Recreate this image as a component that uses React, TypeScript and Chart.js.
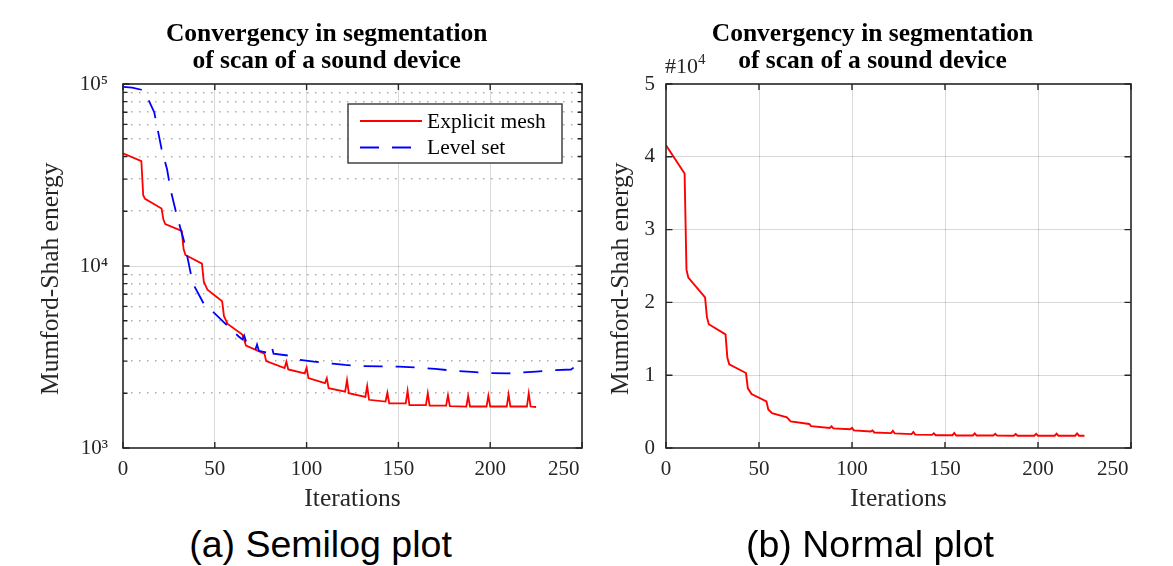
import React, { useEffect, useRef } from 'react';
import { Chart, registerables } from 'chart.js';

Chart.register(...registerables);

// ---------------- data ----------------
const TITLE_LINES = ['Convergency in segmentation', 'of scan of a sound device'];
const CAPTIONS = ['(a) Semilog plot', '(b) Normal plot'];
const X_TITLE = 'Iterations';
const Y_TITLE = 'Mumford-Shah energy';
const SERIES_NAMES = ['Explicit mesh', 'Level set'];
const LINEAR_EXPONENT = '#10';
const LINEAR_EXPONENT_POWER = '4';

// Explicit mesh (red) – iteration / energy breakpoints
const MESH_ITER = [0, 10, 11, 12, 21, 22, 23, 32, 33, 34, 43, 44, 46, 54, 55, 57, 65, 67, 77, 78, 88, 89, 90, 99, 100, 101, 110, 111, 112, 121, 122, 123, 132, 133, 134, 143, 144, 145, 154, 155, 156, 165, 166, 167, 176, 177, 178, 187, 188, 189, 198, 199, 200, 209, 210, 211, 220, 221, 222, 225];
const MESH_ENERGY = [41600, 37700, 24500, 23400, 20700, 18000, 17000, 15600, 12400, 11500, 10300, 8200, 7400, 6400, 5300, 4800, 4200, 3650, 3300, 3000, 2750, 2980, 2700, 2570, 2760, 2420, 2270, 2420, 2130, 2040, 2360, 2000, 1910, 2190, 1840, 1800, 2010, 1760, 1760, 2060, 1720, 1720, 2000, 1710, 1710, 1950, 1700, 1690, 1930, 1690, 1690, 1940, 1690, 1690, 1970, 1690, 1690, 2000, 1690, 1680];

// Level set (blue dashed)
const LEVEL_ITER = [0, 5, 10, 12, 17, 21, 24, 26, 29, 31, 33, 35, 37, 39, 44, 49, 55, 58, 63, 65, 66, 67, 72, 73, 74, 76, 80, 81, 82, 90, 96, 104, 114, 121, 130, 140, 150, 160, 170, 180, 190, 200, 210, 215, 225, 235, 244, 246, 248, 250];
const LEVEL_ENERGY = [96500, 95500, 93000, 90000, 70000, 44000, 34000, 26000, 19500, 16500, 14000, 11300, 9000, 7700, 6200, 5600, 4900, 4600, 4100, 3950, 4150, 3850, 3450, 3700, 3420, 3380, 3320, 3600, 3300, 3220, 3050, 2980, 2910, 2860, 2820, 2810, 2800, 2770, 2720, 2660, 2620, 2580, 2570, 2590, 2630, 2680, 2700, 2790, 2720, 2760];

const X_TICKS = [0, 50, 100, 150, 200, 250];
const LOG_TICKS = [1000, 2000, 3000, 4000, 5000, 6000, 7000, 8000, 9000, 10000, 20000, 30000, 40000, 50000, 60000, 70000, 80000, 90000, 100000];
const LOG_MAJOR = [1000, 10000, 100000];
const LOG_MAJOR_LABELS = ['10³', '10⁴', '10⁵'];
const LIN_TICKS = [0, 10000, 20000, 30000, 40000, 50000];
const LIN_LABELS = ['0', '1', '2', '3', '4', '5'];

// ---------------- style ----------------
const SERIF = "'Liberation Serif', 'Times New Roman', Times, serif";
const SANS = "'Liberation Sans', Arial, Helvetica, sans-serif";
const INK = '#262626';
const GRID = 'rgba(0,0,0,0.15)';
const MINOR_GRID = 'rgba(0,0,0,0.32)';
const NONE = 'rgba(0,0,0,0)';
const RED = '#ff0000';
const BLUE = '#0000ff';
const LAST_LABEL_PAD = '       ';
const Y_TITLE_PAD = '    ';

const toPoints = (xs: number[], ys: number[]) => xs.map((x, i) => ({ x, y: ys[i] }));

const zeroPadding = (s: any) => {
  s.paddingLeft = 0;
  s.paddingRight = 0;
  s.paddingTop = 0;
  s.paddingBottom = 0;
};

const frameTicksPlugin = {
  id: 'frameTicks',
  afterDatasetsDraw(chart: any) {
    const { ctx, chartArea: a } = chart;
    const xs = chart.scales.x;
    const ys = chart.scales.y;
    ctx.save();
    ctx.strokeStyle = INK;
    ctx.lineWidth = 1.4;
    ctx.beginPath();
    for (const t of xs.ticks) {
      const px = xs.getPixelForValue(t.value);
      ctx.moveTo(px, a.bottom);
      ctx.lineTo(px, a.bottom - 6);
      ctx.moveTo(px, a.top);
      ctx.lineTo(px, a.top + 6);
    }
    for (const t of ys.ticks) {
      const py = ys.getPixelForValue(t.value);
      const len = t.label === '' ? 4.5 : 6.5;
      ctx.moveTo(a.left, py);
      ctx.lineTo(a.left + len, py);
      ctx.moveTo(a.right, py);
      ctx.lineTo(a.right - len, py);
    }
    ctx.stroke();
    ctx.lineWidth = 1.6;
    ctx.strokeRect(a.left, a.top, a.right - a.left, a.bottom - a.top);
    ctx.restore();
  },
};

const insideLegendPlugin = {
  id: 'insideLegend',
  afterDatasetsDraw(chart: any, _args: any, opts: any) {
    if (!opts || !opts.display) return;
    const { ctx, chartArea: a } = chart;
    const w = 214;
    const h = 59;
    const left = a.right - 20 - w;
    const top = a.top + 20;
    ctx.save();
    ctx.fillStyle = '#ffffff';
    ctx.fillRect(left, top, w, h);
    ctx.strokeStyle = INK;
    ctx.lineWidth = 1.3;
    ctx.strokeRect(left, top, w, h);
    ctx.font = `21.5px ${SERIF}`;
    ctx.textBaseline = 'middle';
    ctx.textAlign = 'left';
    chart.data.datasets.forEach((ds: any, i: number) => {
      const y = top + 17 + i * 26.5;
      ctx.strokeStyle = ds.borderColor;
      ctx.lineWidth = ds.borderWidth;
      ctx.setLineDash(ds.borderDash || []);
      ctx.beginPath();
      ctx.moveTo(left + 12, y);
      ctx.lineTo(left + 74, y);
      ctx.stroke();
      ctx.setLineDash([]);
      ctx.fillStyle = '#000000';
      ctx.fillText(ds.label, left + 79, y + 1);
    });
    ctx.restore();
  },
};

const tickFont = { family: SERIF, size: 21 };
const titleFont = { family: SERIF, size: 25.5 };

const makeXScale = () => ({
  type: 'linear',
  min: X_TICKS[0],
  max: X_TICKS[X_TICKS.length - 1],
  afterBuildTicks: (s: any) => {
    s.ticks = X_TICKS.map((v) => ({ value: v }));
  },
  afterFit: (s: any) => {
    s.height = 72;
    zeroPadding(s);
  },
  ticks: {
    font: tickFont,
    color: INK,
    padding: 9,
    maxRotation: 0,
    autoSkip: false,
    callback: (v: number) => (v === X_TICKS[X_TICKS.length - 1] ? `${v}${LAST_LABEL_PAD}` : String(v)),
  },
  grid: {
    drawTicks: false,
    lineWidth: 1,
    color: (c: any) =>
      c.tick && c.tick.value > X_TICKS[0] && c.tick.value < X_TICKS[X_TICKS.length - 1] ? GRID : NONE,
  },
  border: { display: false },
  title: { display: true, text: X_TITLE, font: titleFont, color: INK, padding: { top: 0, bottom: 5 } },
});

function SemilogChart() {
  const ref = useRef<HTMLCanvasElement>(null);
  useEffect(() => {
    const isMajor = (v: number) => LOG_MAJOR.indexOf(v) >= 0;
    const chart = new Chart(ref.current as HTMLCanvasElement, {
      type: 'line',
      data: {
        datasets: [
          {
            label: SERIES_NAMES[0],
            data: toPoints(MESH_ITER, MESH_ENERGY),
            borderColor: RED,
            borderWidth: 1.8,
            pointRadius: 0,
            tension: 0,
            order: 1,
            xAxisID: 'x',
            yAxisID: 'y',
          },
          {
            label: SERIES_NAMES[1],
            data: toPoints(LEVEL_ITER, LEVEL_ENERGY),
            borderColor: BLUE,
            borderWidth: 1.8,
            borderDash: [19, 13],
            pointRadius: 0,
            tension: 0,
            order: 0,
            xAxisID: 'x',
            yAxisID: 'y',
          },
        ],
      } as any,
      options: {
        responsive: false,
        animation: false,
        events: [],
        layout: { padding: { top: 84, right: 18, bottom: 0, left: 0 } },
        plugins: {
          legend: { display: false },
          title: { display: false },
          tooltip: { enabled: false },
          insideLegend: { display: true },
        } as any,
        scales: {
          x: makeXScale(),
          y: {
            type: 'logarithmic',
            position: 'left',
            min: LOG_TICKS[0],
            max: LOG_TICKS[LOG_TICKS.length - 1],
            afterBuildTicks: (s: any) => {
              s.ticks = LOG_TICKS.map((v) => ({ value: v }));
            },
            afterFit: (s: any) => {
              s.width = 123;
              zeroPadding(s);
            },
            ticks: {
              font: tickFont,
              color: INK,
              padding: 15,
              autoSkip: false,
              callback: (v: number) => {
                const k = LOG_MAJOR.indexOf(v);
                return k >= 0 ? LOG_MAJOR_LABELS[k] : '';
              },
            },
            grid: {
              drawTicks: false,
              lineWidth: 1,
              color: (c: any) =>
                c.tick && isMajor(c.tick.value) && c.tick.value > LOG_TICKS[0] && c.tick.value < LOG_TICKS[LOG_TICKS.length - 1]
                  ? GRID
                  : NONE,
            },
            border: { display: false },
            title: { display: true, text: Y_TITLE + Y_TITLE_PAD, font: titleFont, color: INK, padding: { top: 36, bottom: 0 } },
          },
          yMinor: {
            type: 'logarithmic',
            position: 'left',
            min: LOG_TICKS[0],
            max: LOG_TICKS[LOG_TICKS.length - 1],
            afterBuildTicks: (s: any) => {
              s.ticks = LOG_TICKS.map((v) => ({ value: v }));
            },
            afterFit: (s: any) => {
              s.width = 0;
              zeroPadding(s);
            },
            ticks: { display: false },
            grid: {
              drawTicks: false,
              lineWidth: 1.5,
              color: (c: any) => (c.tick && !isMajor(c.tick.value) ? MINOR_GRID : NONE),
            },
            border: { display: false, dash: [1.5, 6.5] },
          },
        } as any,
      },
      plugins: [frameTicksPlugin, insideLegendPlugin],
    });
    return () => chart.destroy();
  }, []);
  return (
    <canvas
      ref={ref}
      width={600}
      height={520}
      style={{ position: 'absolute', left: 0, top: 0, width: 600, height: 520 }}
    />
  );
}

function NormalChart() {
  const ref = useRef<HTMLCanvasElement>(null);
  useEffect(() => {
    const chart = new Chart(ref.current as HTMLCanvasElement, {
      type: 'line',
      data: {
        datasets: [
          {
            label: SERIES_NAMES[0],
            data: toPoints(MESH_ITER, MESH_ENERGY),
            borderColor: RED,
            borderWidth: 1.9,
            pointRadius: 0,
            tension: 0,
          },
        ],
      } as any,
      options: {
        responsive: false,
        animation: false,
        events: [],
        layout: { padding: { top: 84, right: 24, bottom: 0, left: 0 } },
        plugins: {
          legend: { display: false },
          title: { display: false },
          tooltip: { enabled: false },
        },
        scales: {
          x: makeXScale(),
          y: {
            type: 'linear',
            min: LIN_TICKS[0],
            max: LIN_TICKS[LIN_TICKS.length - 1],
            afterBuildTicks: (s: any) => {
              s.ticks = LIN_TICKS.map((v) => ({ value: v }));
            },
            afterFit: (s: any) => {
              s.width = 76;
              zeroPadding(s);
            },
            ticks: {
              font: tickFont,
              color: INK,
              padding: 11,
              autoSkip: false,
              callback: (v: number) => LIN_LABELS[LIN_TICKS.indexOf(v)],
            },
            grid: {
              drawTicks: false,
              lineWidth: 1,
              color: (c: any) =>
                c.tick && c.tick.value > LIN_TICKS[0] && c.tick.value < LIN_TICKS[LIN_TICKS.length - 1] ? GRID : NONE,
            },
            border: { display: false },
            title: { display: true, text: Y_TITLE + Y_TITLE_PAD, font: titleFont, color: INK, padding: { top: 16, bottom: 0 } },
          },
        } as any,
      },
      plugins: [frameTicksPlugin],
    });
    return () => chart.destroy();
  }, []);
  return (
    <canvas
      ref={ref}
      width={565}
      height={520}
      style={{ position: 'absolute', left: 590, top: 0, width: 565, height: 520 }}
    />
  );
}

function Title({ center }: { center: number }) {
  return (
    <div
      style={{
        position: 'absolute',
        left: center - 250,
        top: 20,
        width: 500,
        textAlign: 'center',
        fontFamily: SERIF,
        fontWeight: 'bold',
        fontSize: 25.5,
        lineHeight: '26.7px',
        color: '#000',
        whiteSpace: 'nowrap',
      }}
    >
      {TITLE_LINES.map((l, i) => (
        <div key={i}>{l}</div>
      ))}
    </div>
  );
}

function Caption({ center, text }: { center: number; text: string }) {
  return (
    <div
      style={{
        position: 'absolute',
        left: center - 250,
        top: 523,
        width: 500,
        textAlign: 'center',
        fontFamily: SANS,
        fontSize: 37.5,
        lineHeight: '42px',
        color: '#000',
        whiteSpace: 'nowrap',
      }}
    >
      {text}
    </div>
  );
}

export default function App() {
  return (
    <div style={{ position: 'absolute', left: 0, top: 0, width: 1173, height: 566, background: '#fff', overflow: 'hidden' }}>
      <SemilogChart />
      <NormalChart />
      <Title center={326.7} />
      <Title center={872.5} />
      <div
        style={{
          position: 'absolute',
          left: 665,
          top: 54,
          fontFamily: SERIF,
          fontSize: 22,
          lineHeight: '24px',
          color: INK,
          whiteSpace: 'nowrap',
        }}
      >
        {LINEAR_EXPONENT}
        <span style={{ position: 'relative', top: -9, fontSize: 15 }}>{LINEAR_EXPONENT_POWER}</span>
      </div>
      <Caption center={320.5} text={CAPTIONS[0]} />
      <Caption center={870} text={CAPTIONS[1]} />
    </div>
  );
}
